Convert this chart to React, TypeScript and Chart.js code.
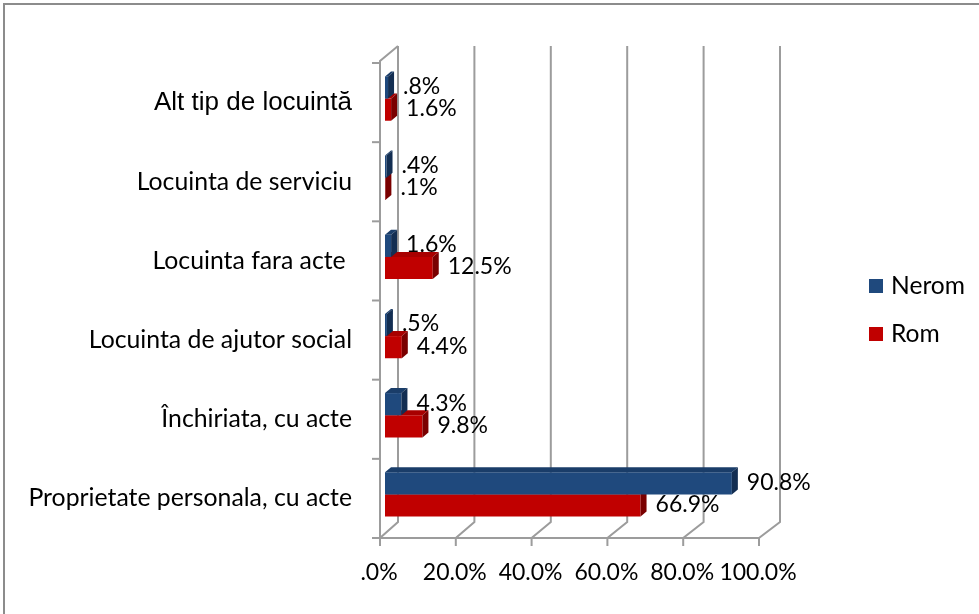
import React, { useEffect, useRef } from 'react';
import { Chart, registerables } from 'chart.js';

Chart.register(...registerables);

const categories = [
  'Alt tip de locuintă',
  'Locuinta de serviciu',
  'Locuinta fara acte ',
  'Locuinta de ajutor social',
  'Închiriata, cu acte',
  'Proprietate personala, cu acte',
];
const neromValues = [0.8, 0.4, 1.6, 0.5, 4.3, 90.8];
const romValues = [1.6, 0.1, 12.5, 4.4, 9.8, 66.9];
const xTicks = [0, 20, 40, 60, 80, 100];
const xTickLabels = ['.0%', '20.0%', '40.0%', '60.0%', '80.0%', '100.0%'];
const seriesNames = ['Nerom', 'Rom'];

const FRONT = ['#1F497D', '#C00000'];
const TOPC = ['#1A3D69', '#A80000'];
const SIDE = ['#132E52', '#7A0000'];
const GRID = '#9C9C9C';
const FONT = 'Lato, "Open Sans", sans-serif';
const DX = 6;
const DY = 5;

function fmt(v: number): string {
  if (v < 1) return '.' + Math.round(v * 10) + '%';
  return v.toFixed(1) + '%';
}

const frontX = (chart: any, v: number) => chart.scales.x.getPixelForValue(v) - 5 - 0.03 * v;
const backX = (chart: any, v: number) => chart.scales.x.getPixelForValue(v) + 13;

const plugin3d = {
  id: 'excel3d',
  beforeDatasetsDraw(chart: any) {
    const ctx = chart.ctx;
    const ca = chart.chartArea;
    const backTop = ca.top - 13;
    const backBottom = ca.bottom - 12;
    const frontTop = ca.top + 2;
    const frontBottom = ca.bottom + 4;
    ctx.save();
    ctx.strokeStyle = GRID;
    ctx.lineWidth = 2;
    ctx.lineCap = 'butt';
    xTicks.forEach((v) => {
      const bx = backX(chart, v);
      const fx = frontX(chart, v);
      ctx.beginPath();
      ctx.moveTo(bx, backTop);
      ctx.lineTo(bx, backBottom);
      ctx.lineTo(fx, frontBottom);
      ctx.lineTo(fx, frontBottom + 8);
      ctx.stroke();
    });
    ctx.beginPath();
    ctx.moveTo(frontX(chart, 0), frontBottom);
    ctx.lineTo(frontX(chart, 100), frontBottom);
    ctx.stroke();
    const f0 = frontX(chart, 0);
    ctx.beginPath();
    ctx.moveTo(backX(chart, 0), backTop);
    ctx.lineTo(f0, frontTop);
    ctx.lineTo(f0, frontBottom);
    ctx.stroke();
    const n = categories.length;
    const step = (ca.bottom - ca.top) / n;
    for (let i = 0; i <= n; i++) {
      const y = ca.top + i * step + 4;
      ctx.beginPath();
      ctx.moveTo(f0 - 8, y);
      ctx.lineTo(f0, y);
      ctx.stroke();
    }
    ctx.restore();
  },
  afterDatasetDraw(chart: any, args: any) {
    const ctx = chart.ctx;
    const di = args.index;
    const meta = args.meta;
    ctx.save();
    meta.data.forEach((el: any) => {
      const p = el.getProps(['x', 'y', 'base', 'height'], true);
      const left = Math.min(p.base, p.x);
      const right = Math.max(p.base, p.x);
      const top = p.y - p.height / 2;
      const bottom = p.y + p.height / 2;
      ctx.fillStyle = TOPC[di];
      ctx.beginPath();
      ctx.moveTo(left, top);
      ctx.lineTo(right, top);
      ctx.lineTo(right + DX, top - DY);
      ctx.lineTo(left + DX, top - DY);
      ctx.closePath();
      ctx.fill();
      ctx.fillStyle = SIDE[di];
      ctx.beginPath();
      ctx.moveTo(right, top);
      ctx.lineTo(right + DX, top - DY);
      ctx.lineTo(right + DX, bottom - DY);
      ctx.lineTo(right, bottom);
      ctx.closePath();
      ctx.fill();
    });
    ctx.restore();
  },
  afterDraw(chart: any) {
    const ctx = chart.ctx;
    const ca = chart.chartArea;
    ctx.save();
    ctx.strokeStyle = '#8C8C8C';
    ctx.lineWidth = 2;
    ctx.strokeRect(4, 4, 1200, 1200);
    ctx.fillStyle = '#000';
    ctx.font = '23px ' + FONT;
    ctx.textBaseline = 'middle';
    ctx.textAlign = 'left';
    chart.data.datasets.forEach((ds: any, di: number) => {
      const meta = chart.getDatasetMeta(di);
      meta.data.forEach((el: any, i: number) => {
        const p = el.getProps(['x', 'y'], true);
        ctx.fillText(fmt(ds.data[i]), p.x + DX + 9, p.y - 1);
      });
    });
    ctx.textAlign = 'right';
    categories.forEach((c, i) => {
      const y = chart.scales.y.getPixelForValue(i) + 4;
      ctx.font = i === 0 ? '26px "Liberation Sans", Arial, sans-serif' : '24.8px ' + FONT;
      ctx.fillText(c, 352, y);
    });
    ctx.font = '23px ' + FONT;
    ctx.textAlign = 'center';
    xTicks.forEach((v, i) => {
      ctx.fillText(xTickLabels[i], frontX(chart, v) - 1, ca.bottom + 39);
    });
    ctx.textAlign = 'left';
    ctx.font = '24.6px ' + FONT;
    seriesNames.forEach((name, i) => {
      const cy = 286 + i * 48;
      ctx.fillStyle = FRONT[i];
      ctx.fillRect(869, cy - 7, 14, 14);
      ctx.fillStyle = '#000';
      ctx.fillText(name, 891, cy);
    });
    ctx.restore();
  },
};

export default function App() {
  const ref = useRef<HTMLCanvasElement>(null);
  useEffect(() => {
    if (!ref.current) return;
    const chart = new Chart(ref.current, {
      type: 'bar',
      data: {
        labels: categories,
        datasets: [
          { label: seriesNames[0], data: neromValues, backgroundColor: FRONT[0], borderWidth: 0 },
          { label: seriesNames[1], data: romValues, backgroundColor: FRONT[1], borderWidth: 0 },
        ],
      },
      options: {
        indexAxis: 'y',
        responsive: false,
        animation: false,
        events: [],
        datasets: { bar: { categoryPercentage: 0.56, barPercentage: 1 } },
        layout: { padding: { left: 385, right: 212, top: 59, bottom: 80 } },
        scales: {
          x: { display: false, min: 0, max: 100 },
          y: { display: false },
        },
        plugins: { legend: { display: false }, tooltip: { enabled: false } },
      },
      plugins: [plugin3d],
    });
    return () => chart.destroy();
  }, []);
  return (
    <div style={{ position: 'absolute', left: 0, top: 0, width: 979, height: 614, background: '#fff' }}>
      <canvas ref={ref} width={979} height={614} />
    </div>
  );
}
